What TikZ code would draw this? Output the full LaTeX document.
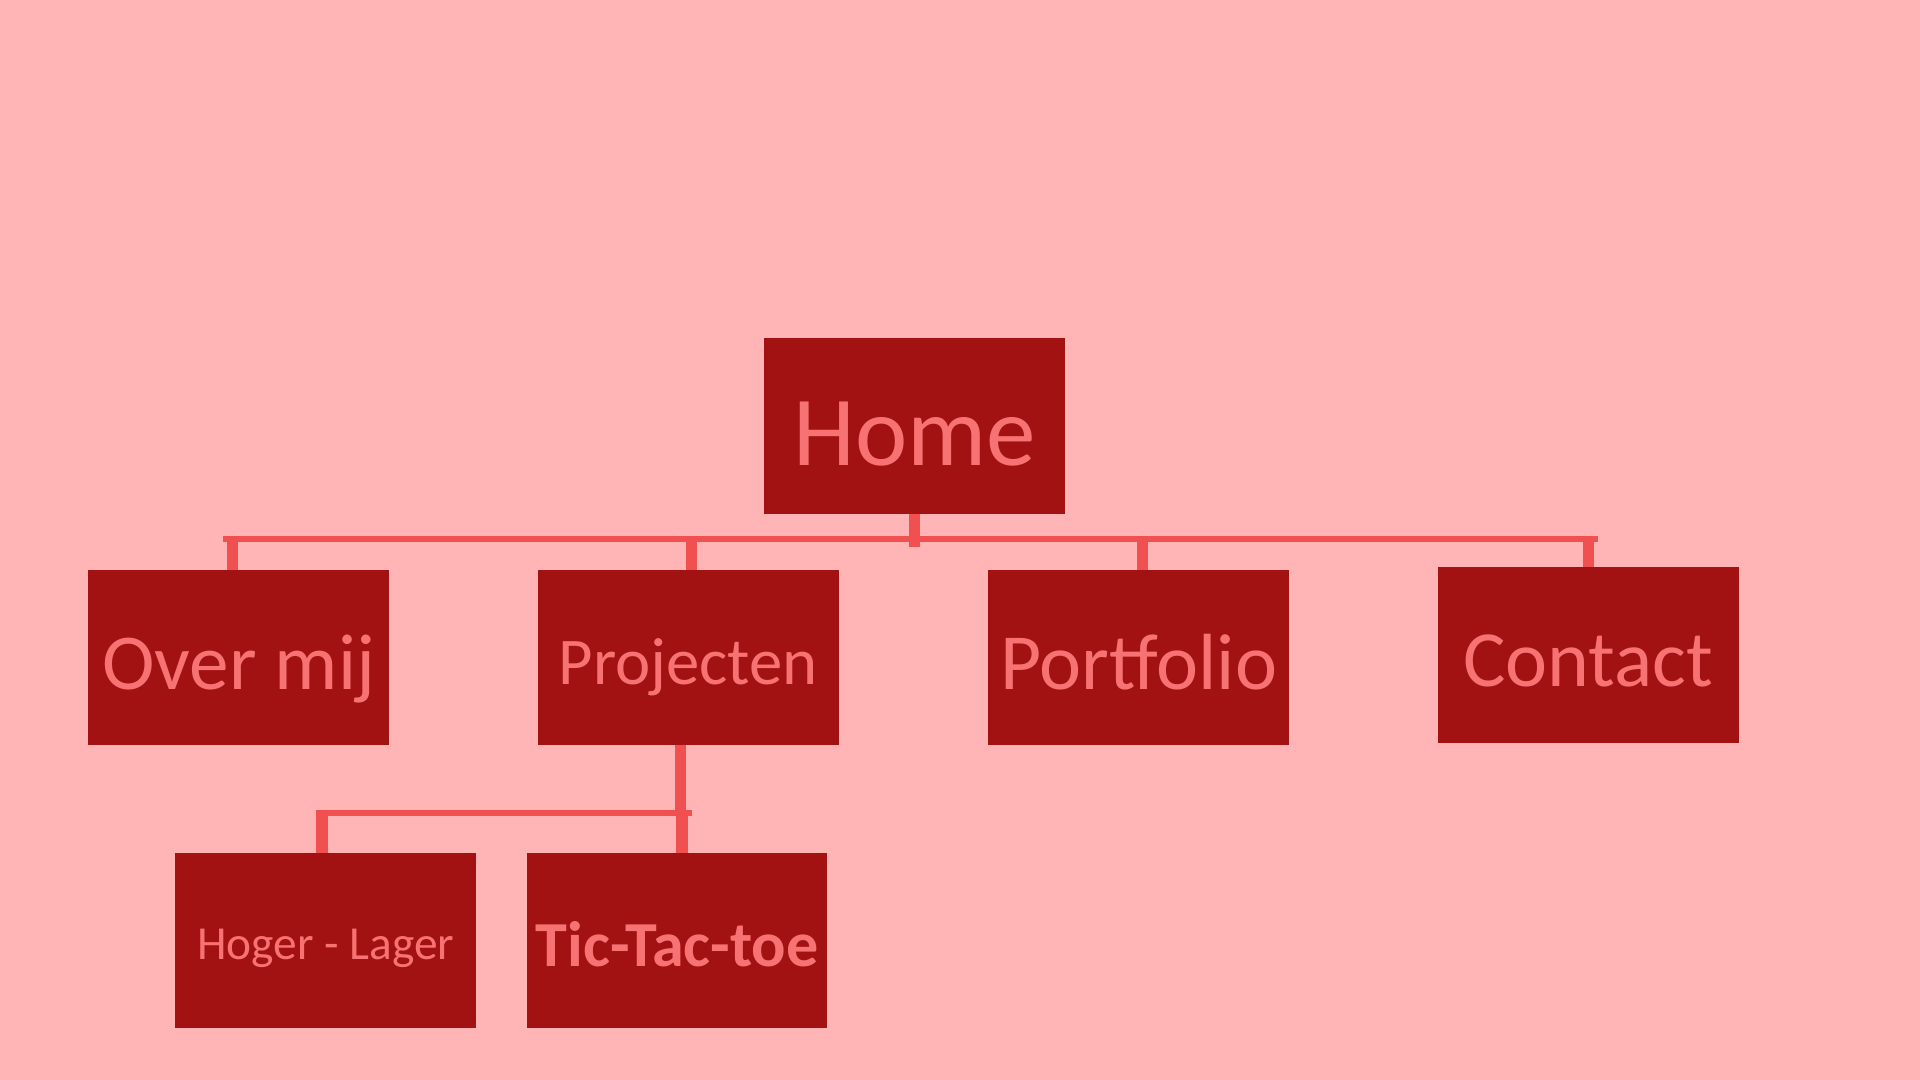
\documentclass[tikz,border=0pt]{standalone}
\usepackage{fontspec}
\setmainfont{Carlito}
\definecolor{pagepink}{RGB}{255,181,181}
\definecolor{boxred}{RGB}{163,18,18}
\definecolor{textpink}{RGB}{247,115,115}
\definecolor{linered}{RGB}{240,80,80}
\tikzset{
  box/.style={fill=boxred,draw=boxred,minimum width=2.44cm,minimum height=1.42cm,
    inner sep=0pt,text=textpink,font=\fontsize{#1}{#1}\selectfont,
    text height=0.8*#1pt,text depth=0pt},
  bar/.style={draw=linered,line width=1.3pt},
  stub/.style={draw=linered,line width=2.6pt}
}
\begin{document}
\begin{tikzpicture}[x=0.01cm,y=-0.01cm]
\fill[pagepink] (0,0) rectangle (1568,882);
\useasboundingbox (0,0) rectangle (1568,882);
% boxes
\node[box=23] (home) at (747,348) {Home};
\node[box=18.4] (over) at (195,537) {Over mij};
\node[box=15.5] (proj) at (562,537) {Projecten};
\node[box=18.5] (port) at (930,537) {Portfolio};
\node[box=18.5] (cont) at (1297,535) {Contact};
\node[box=11] (hoger) at (266,768) {Hoger - Lager};
\node[box=14.9] (tic) at (553,768) {\bfseries Tic-Tac-toe};
% top level lines
\coordinate (barL) at (182,440);
\coordinate (barR) at (1305,440);
\draw[bar] (barL) -- (barR);
\draw[stub] (home.south) -- ([yshift=-2pt]home.south |- barL);
\foreach \n/\dx in {over/-5,proj/3,port/3,cont/0}
\draw[stub] ([xshift=\dx*0.01cm]\n.north) -- ([xshift=\dx*0.01cm]\n.north |- barL);
% second level lines
\coordinate (subL) at (258,664);
\coordinate (subR) at (565,664);
\draw[bar] (subL) -- (subR);
\draw[stub] ([xshift=-0.06cm]proj.south) -- ([xshift=-0.06cm]proj.south |- subL);
\foreach \n/\dx in {hoger/-3,tic/4}
\draw[stub] ([xshift=\dx*0.01cm]\n.north) -- ([xshift=\dx*0.01cm]\n.north |- subL);
\end{tikzpicture}
\end{document}
